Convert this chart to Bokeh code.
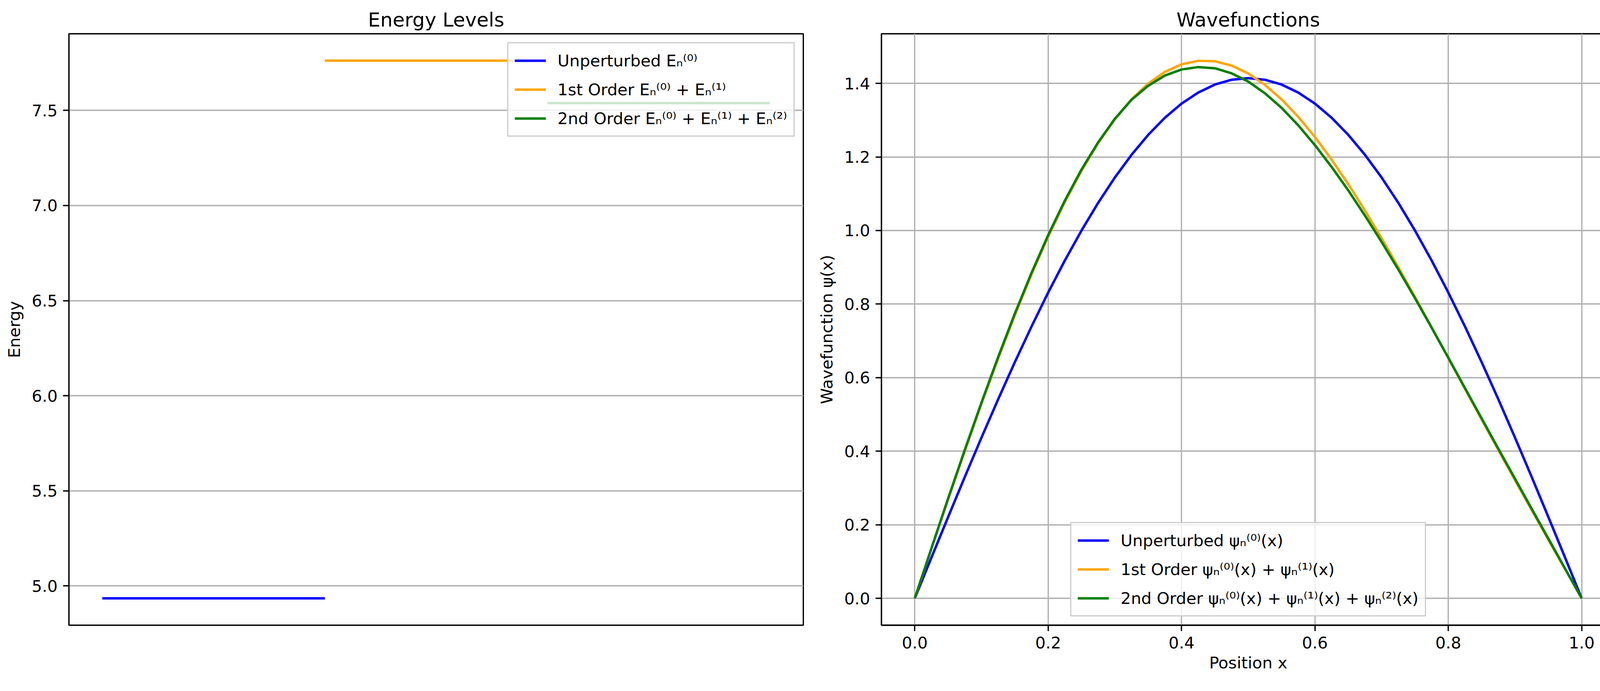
from bokeh.plotting import figure
from bokeh.layouts import row
from bokeh.models import Range1d, FixedTicker, NumeralTickFormatter
from bokeh.embed import file_html
from bokeh.resources import INLINE

FONT = "DejaVu Sans"

# ---------------- data ----------------
# Energy levels (level index span and energy)
level_x0 = [0, 1, 2]
level_x1 = [1, 2, 3]
energies = [4.9348, 7.7615, 7.5383]
level_labels = [
    "Unperturbed E\u2099\u207d\u2070\u207e",
    "1st Order E\u2099\u207d\u2070\u207e + E\u2099\u207d\u00b9\u207e",
    "2nd Order E\u2099\u207d\u2070\u207e + E\u2099\u207d\u00b9\u207e + E\u2099\u207d\u00b2\u207e",
]
level_colors = ["blue", "orange", "green"]

# Wavefunctions
positions = [0.0, 0.025, 0.05, 0.075, 0.1, 0.125, 0.15, 0.175, 0.2, 0.225,
             0.25, 0.275, 0.3, 0.325, 0.35, 0.375, 0.4, 0.425, 0.45, 0.475,
             0.5, 0.525, 0.55, 0.575, 0.6, 0.625, 0.65, 0.675, 0.7, 0.725,
             0.75, 0.775, 0.8, 0.825, 0.85, 0.875, 0.9, 0.925, 0.95, 0.975, 1.0]
psi_unpert = [0.0, 0.1110, 0.2212, 0.3301, 0.4370, 0.5412, 0.6420, 0.7389, 0.8313, 0.9185,
              1.0000, 1.0754, 1.1441, 1.2058, 1.2601, 1.3066, 1.3450, 1.3751, 1.3968, 1.4099,
              1.4142, 1.4099, 1.3968, 1.3751, 1.3450, 1.3066, 1.2601, 1.2058, 1.1441, 1.0754,
              1.0000, 0.9185, 0.8313, 0.7389, 0.6420, 0.5412, 0.4370, 0.3301, 0.2212, 0.1110, 0.0]
psi_first = [0.0, 0.1354, 0.2695, 0.4012, 0.5292, 0.6525, 0.7699, 0.8806, 0.9834, 1.0777,
             1.1627, 1.2379, 1.3026, 1.3566, 1.3995, 1.4313, 1.4518, 1.4614, 1.4602, 1.4485,
             1.4270, 1.3961, 1.3565, 1.3090, 1.2542, 1.1929, 1.1261, 1.0545, 0.9789, 0.9002,
             0.8192, 0.7367, 0.6532, 0.5695, 0.4861, 0.4032, 0.3211, 0.2399, 0.1594, 0.0795, 0.0]
psi_second = [0.0, 0.1364, 0.2715, 0.4037, 0.5322, 0.6560, 0.7739, 0.8846, 0.9874, 1.0812,
              1.1657, 1.2399, 1.3036, 1.3556, 1.3935, 1.4213, 1.4378, 1.4444, 1.4412, 1.4275,
              1.4050, 1.3731, 1.3335, 1.2860, 1.2322, 1.1729, 1.1091, 1.0405, 0.9689, 0.8942,
              0.8162, 0.7357, 0.6542, 0.5715, 0.4891, 0.4067, 0.3251, 0.2434, 0.1624, 0.0810, 0.0]
wave_labels = [
    "Unperturbed \u03c8\u2099\u207d\u2070\u207e(x)",
    "1st Order \u03c8\u2099\u207d\u2070\u207e(x) + \u03c8\u2099\u207d\u00b9\u207e(x)",
    "2nd Order \u03c8\u2099\u207d\u2070\u207e(x) + \u03c8\u2099\u207d\u00b9\u207e(x) + \u03c8\u2099\u207d\u00b2\u207e(x)",
]

energy_ticks = [5.0, 5.5, 6.0, 6.5, 7.0, 7.5]
pos_ticks = [0.0, 0.2, 0.4, 0.6, 0.8, 1.0]
psi_ticks = [0.0, 0.2, 0.4, 0.6, 0.8, 1.0, 1.2, 1.4]

# ---------------- styling helpers ----------------
FS = "41.7px"
LW = 6.25
SPINE = 3.3


def style(p):
    p.background_fill_color = "white"
    p.border_fill_color = "white"
    p.outline_line_color = "black"
    p.outline_line_width = SPINE
    p.outline_line_alpha = 1.0
    p.title.text_font = FONT
    p.title.text_font_size = "50px"
    p.title.text_font_style = "normal"
    p.title.text_color = "black"
    p.title.align = "center"
    p.title.standoff = 14
    for ax in p.axis:
        ax.axis_line_color = "black"
        ax.axis_line_width = SPINE
        ax.major_tick_out = 15
        ax.major_tick_in = 0
        ax.major_tick_line_width = SPINE
        ax.major_tick_line_color = "black"
        ax.minor_tick_out = 0
        ax.minor_tick_in = 0
        ax.major_label_text_font = FONT
        ax.major_label_text_font_size = FS
        ax.major_label_text_color = "black"
        ax.major_label_standoff = 14
        ax.axis_label_text_font = FONT
        ax.axis_label_text_font_size = FS
        ax.axis_label_text_font_style = "normal"
        ax.axis_label_text_color = "black"
        ax.axis_label_standoff = 17
    for g in p.grid:
        g.grid_line_color = "#b0b0b0"
        g.grid_line_width = SPINE


def style_legend(p, loc):
    lg = p.legend[0]
    lg.location = loc
    lg.margin = 22
    lg.padding = 16
    lg.spacing = 18
    lg.label_text_font = FONT
    lg.label_text_font_size = FS
    lg.label_text_color = "black"
    lg.label_height = 56
    lg.glyph_height = 56
    lg.glyph_width = 80
    lg.label_standoff = 30
    lg.border_line_color = "#cccccc"
    lg.border_line_width = SPINE
    lg.border_line_alpha = 1.0
    lg.background_fill_color = "white"
    lg.background_fill_alpha = 0.8


# ---------------- figure 1: energy levels ----------------
W1, W2, H = 2072, 2083, 1754

p1 = figure(width=W1, height=H, output_backend="svg", toolbar_location=None,
            title="Energy Levels",
            x_range=Range1d(-0.15, 3.15), y_range=Range1d(4.7935, 7.9028),
            min_border_left=176, min_border_right=16, min_border_top=86,
            min_border_bottom=153)
for i in range(3):
    p1.segment(x0=[level_x0[i]], x1=[level_x1[i]], y0=[energies[i]], y1=[energies[i]],
               line_color=level_colors[i], line_width=LW, legend_label=level_labels[i])
p1.xaxis.visible = False
p1.xgrid.visible = False
p1.yaxis.ticker = FixedTicker(ticks=energy_ticks)
p1.yaxis.formatter = NumeralTickFormatter(format="0.0")
p1.yaxis.axis_label = "Energy"
style(p1)
style_legend(p1, "top_right")

# ---------------- figure 2: wavefunctions ----------------
p2 = figure(width=W2, height=H, output_backend="svg", toolbar_location=None,
            title="Wavefunctions",
            x_range=Range1d(-0.05, 1.05), y_range=Range1d(-0.0731, 1.5349),
            min_border_left=184, min_border_right=21, min_border_top=86,
            min_border_bottom=153)
p2.line(positions, psi_unpert, line_color="blue", line_width=LW, line_join="round",
        legend_label=wave_labels[0])
p2.line(positions, psi_first, line_color="orange", line_width=LW, line_join="round",
        legend_label=wave_labels[1])
p2.line(positions, psi_second, line_color="green", line_width=LW, line_join="round",
        legend_label=wave_labels[2])
p2.xaxis.ticker = FixedTicker(ticks=pos_ticks)
p2.yaxis.ticker = FixedTicker(ticks=psi_ticks)
p2.xaxis.formatter = NumeralTickFormatter(format="0.0")
p2.yaxis.formatter = NumeralTickFormatter(format="0.0")
p2.xaxis.axis_label = "Position x"
p2.yaxis.axis_label = "Wavefunction \u03c8(x)"
style(p2)
p2.xaxis.axis_label_standoff = 9
style_legend(p2, "bottom_center")

layout = row(p1, p2)
open("out.html", "w").write(file_html(layout, INLINE))
